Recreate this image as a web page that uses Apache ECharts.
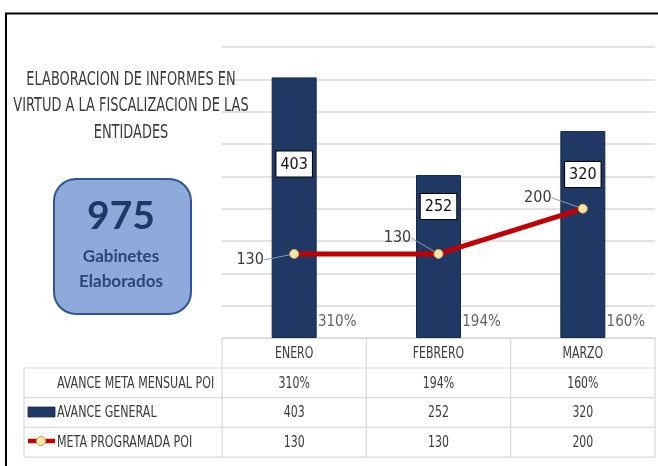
<!DOCTYPE html>
<html>
<head>
<meta charset="utf-8">
<script src="https://cdn.jsdelivr.net/npm/echarts@6/dist/echarts.min.js"></script>
<style>
  html, body { margin: 0; padding: 0; background: #fff; }
  #chart { width: 658px; height: 466px; }
</style>
</head>
<body>
<div id="chart"></div>
<script>
// data
const meses = ['ENERO', 'FEBRERO', 'MARZO'];
const avanceMetaPct = [310, 194, 160];
const avanceGeneral = [403, 252, 320];
const metaProgramada = [130, 130, 200];
const totalGabinetes = 975;

const tituloLineas = ['ELABORACION DE INFORMES EN', 'VIRTUD A LA FISCALIZACION DE LAS', 'ENTIDADES'];
const filaNombres = ['AVANCE META MENSUAL POI', 'AVANCE GENERAL', 'META PROGRAMADA POI'];

const narrow = '"DejaVu Sans Condensed", "DejaVu Sans", sans-serif';
const navy = '#203864';
const red = '#c00000';
const gridCol = '#d9d9d9';
const txt = '#3a3a3a';

// label tweaks (styling only)
const barLabelDist = [74, 19, 31];
const lineLabelShift = [[-44, 6], [-41, -16], [-45, -11]];

const chartDom = document.getElementById('chart');
const myChart = echarts.init(chartDom);

const G = { left: 222, right: 3, top: 47, bottom: 128 };
const tTop = 338, rowH = 29.7;
const colX = [222, 366.3, 510.7, 655];
const rowY = [tTop, tTop + 30, tTop + 30 + rowH, tTop + 30 + 2 * rowH, tTop + 30 + 3 * rowH];

let graphics = [];
// outer frame
graphics.push({ type: 'line', shape: { x1: 5, y1: 13.5, x2: 658, y2: 13.5 }, style: { stroke: '#000', lineWidth: 2 } });
graphics.push({ type: 'line', shape: { x1: 6, y1: 13, x2: 6, y2: 466 }, style: { stroke: '#000', lineWidth: 2 } });
// table lines
for (let r = 1; r < rowY.length; r++) {
  graphics.push({ type: 'line', z: 1, shape: { x1: 24, y1: rowY[r], x2: 655, y2: rowY[r] }, style: { stroke: gridCol, lineWidth: 1.2 } });
}
graphics.push({ type: 'line', z: 1, shape: { x1: 24, y1: rowY[1], x2: 24, y2: rowY[4] }, style: { stroke: gridCol, lineWidth: 1.2 } });
colX.forEach(x => {
  graphics.push({ type: 'line', z: 1, shape: { x1: x, y1: tTop, x2: x, y2: rowY[4] }, style: { stroke: gridCol, lineWidth: 1.2 } });
});
// row headers
filaNombres.forEach((n, i) => {
  graphics.push({ type: 'text', z: 5, x: 57, y: (rowY[i + 1] + rowY[i + 2]) / 2 + 0.5, scaleX: 0.77,
    style: { text: n, font: '16px ' + narrow, fill: txt, verticalAlign: 'middle' } });
});
// legend keys
graphics.push({ type: 'rect', z: 5, shape: { x: 28, y: 407, width: 27, height: 10 }, style: { fill: navy, stroke: '#1a2a4a', lineWidth: 0.8 } });
graphics.push({ type: 'line', z: 5, shape: { x1: 28, y1: 441, x2: 55, y2: 441 }, style: { stroke: red, lineWidth: 4.5 } });
graphics.push({ type: 'circle', z: 6, shape: { cx: 41, cy: 441, r: 4.5 }, style: { fill: '#f3e6a6', stroke: '#c8a45a', lineWidth: 1 } });
// title
tituloLineas.forEach((t, i) => {
  graphics.push({ type: 'text', z: 10, x: 131, y: 79.5 + i * 26.5, scaleX: 0.72,
    style: { text: t, font: '20px ' + narrow, fill: '#3a3a3a', align: 'center', verticalAlign: 'middle' } });
});
// total box
graphics.push({ type: 'rect', z: 10, shape: { x: 54, y: 179, width: 137, height: 135, r: 22 },
  style: { fill: '#8eaadb', stroke: '#2f5597', lineWidth: 2 } });
graphics.push({ type: 'text', z: 11, x: 121, y: 216,
  style: { text: String(totalGabinetes), font: 'bold 39px Lato, "Open Sans", sans-serif', fill: '#1f3864', align: 'center', verticalAlign: 'middle' } });
graphics.push({ type: 'text', z: 11, x: 121, y: 257,
  style: { text: 'Gabinetes', font: 'bold 17px Lato, "Open Sans", sans-serif', fill: '#2b4677', align: 'center', verticalAlign: 'middle' } });
graphics.push({ type: 'text', z: 11, x: 121, y: 282,
  style: { text: 'Elaborados', font: 'bold 17px Lato, "Open Sans", sans-serif', fill: '#2b4677', align: 'center', verticalAlign: 'middle' } });

const option = {
  animation: false,
  backgroundColor: '#fff',
  grid: G,
  xAxis: {
    type: 'category',
    data: meses,
    axisLine: { show: true, lineStyle: { color: gridCol, width: 1.2 } },
    axisTick: { show: false },
    axisLabel: { show: false }
  },
  yAxis: {
    type: 'value',
    min: 0,
    max: 450,
    interval: 50,
    axisLabel: { show: false },
    axisLine: { show: false },
    axisTick: { show: false },
    splitLine: { lineStyle: { color: gridCol, width: 1.5 } }
  },
  series: [
    {
      name: 'AVANCE GENERAL',
      type: 'bar',
      barWidth: 45,
      itemStyle: { color: navy, borderColor: '#16284a', borderWidth: 1 },
      data: avanceGeneral.map((v, i) => ({
        value: v,
        label: { distance: barLabelDist[i] }
      })),
      label: {
        show: true,
        position: 'insideTop',
        fontFamily: narrow,
        fontSize: 16,
        color: '#111',
        backgroundColor: '#fff',
        borderColor: '#000',
        borderWidth: 1,
        padding: [5, 4, 4, 4]
      },
      z: 2
    },
    {
      name: 'META PROGRAMADA POI',
      type: 'line',
      data: metaProgramada,
      symbol: 'circle',
      symbolSize: 9,
      lineStyle: { color: red, width: 5 },
      itemStyle: { color: '#f3e6a6', borderColor: '#c8a45a', borderWidth: 1 },
      label: {
        show: true,
        position: 'inside',
        fontFamily: narrow,
        fontSize: 16,
        color: txt
      },
      labelLine: { show: true, lineStyle: { color: '#8a9ab0', width: 1 } },
      labelLayout: p => ({ dx: lineLabelShift[p.dataIndex][0], dy: lineLabelShift[p.dataIndex][1] }),
      z: 5
    },
    {
      name: 'AVANCE META MENSUAL POI',
      type: 'scatter',
      symbolSize: 0,
      data: avanceMetaPct.map((v, i) => [i, 0]),
      label: {
        show: true,
        position: 'top',
        offset: [43, -3],
        fontFamily: narrow,
        fontSize: 15,
        color: txt,
        formatter: p => avanceMetaPct[p.dataIndex] + '%'
      },
      z: 4
    }
  ],
  graphic: graphics
};

option && myChart.setOption(option);

// data table cells, placed at the category centres of the x axis
const filas = [meses, avanceMetaPct.map(v => v + '%'), avanceGeneral, metaProgramada];
meses.forEach((m, c) => {
  const cx = myChart.convertToPixel({ xAxisIndex: 0 }, m);
  filas.forEach((fila, r) => {
    graphics.push({ type: 'text', z: 5, x: cx, y: (rowY[r] + rowY[r + 1]) / 2 + 0.5, scaleX: 0.76,
      style: { text: String(fila[c]), font: '16px ' + narrow, fill: txt, align: 'center', verticalAlign: 'middle' } });
  });
});
myChart.setOption({ graphic: graphics });
</script>
</body>
</html>
